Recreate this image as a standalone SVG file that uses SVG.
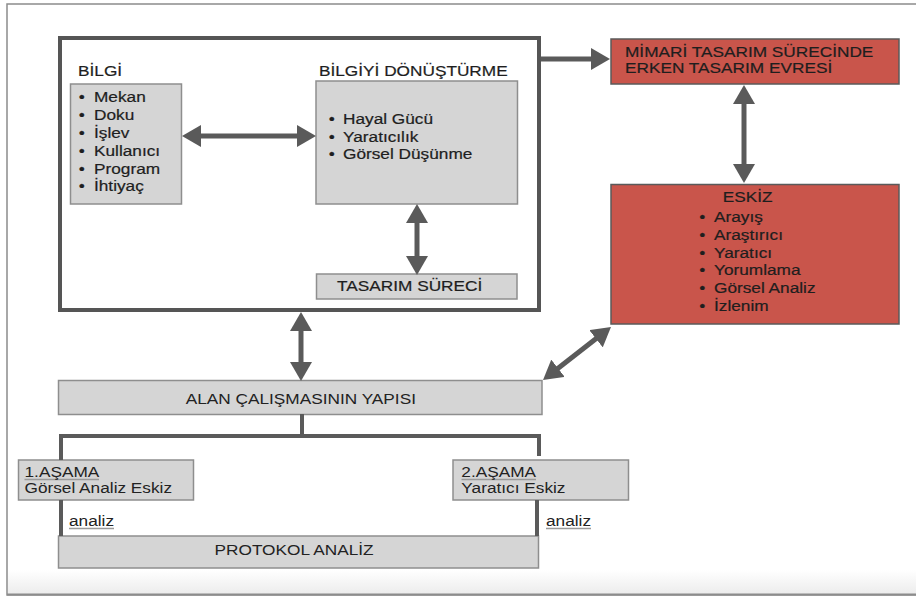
<svg xmlns="http://www.w3.org/2000/svg" width="916" height="597" viewBox="0 0 916 597">
<style>
.box{fill:#d5d5d5;stroke:#8e8e8e;stroke-width:1.5}
.red{fill:#c9554b;stroke:#5a5a5a;stroke-width:1.5}
.arr{stroke:#5a5a5a;stroke-width:5;fill:none}
.tree{stroke:#5a5a5a;stroke-width:4;fill:none}
.ul{stroke:#9a9a9a;stroke-width:1.4}
text{font-family:"Liberation Sans",Arial,sans-serif;font-size:14.5px;fill:#1e1e1e;stroke:#1e1e1e;stroke-width:0.2}
text.t{stroke:none;fill:#222222}
.m{text-anchor:middle}
</style>
<defs>
<marker id="ah" markerUnits="userSpaceOnUse" markerWidth="19" markerHeight="22" viewBox="0 0 19 22" refX="8" refY="11" orient="auto-start-reverse">
<path d="M0,0 L19,11 L0,22 z" fill="#5a5a5a"/>
</marker>
<linearGradient id="bg" x1="0" y1="0" x2="0" y2="1">
<stop offset="0" stop-color="#ffffff"/>
<stop offset="1" stop-color="#ececec"/>
</linearGradient>
</defs>
<rect x="0" y="0" width="916" height="597" fill="#ffffff"/>
<g id="frame">
<rect x="7" y="4" width="950" height="591" fill="#ffffff" stroke="#8c8c8c" stroke-width="1.5"/>
<rect x="8" y="570" width="910" height="24" fill="url(#bg)"/>
<line x1="7" y1="594.5" x2="916" y2="594.5" stroke="#8c8c8c" stroke-width="2"/>
</g>
<g id="inner-frame">
<rect x="60" y="38" width="479" height="272" fill="none" stroke="#555555" stroke-width="4"/>
</g>
<g id="bilgi">
<rect class="box" x="70.5" y="84" width="111" height="120"/>
</g>
<g id="bilgiyi">
<rect class="box" x="316" y="81" width="201.5" height="123"/>
</g>
<g id="tasarim">
<rect class="box" x="316.5" y="274" width="200.5" height="25"/>
</g>
<g id="mimari">
<rect class="red" x="611" y="39" width="288" height="45"/>
</g>
<g id="eskiz">
<rect class="red" x="611" y="184.5" width="288" height="139.5"/>
</g>
<g id="alan">
<rect class="box" x="58.5" y="380.5" width="483.5" height="34"/>
</g>
<g id="asama1">
<rect class="box" x="18.5" y="460" width="175" height="40"/>
</g>
<g id="asama2">
<rect class="box" x="453" y="460" width="175.5" height="40"/>
</g>
<g id="protokol">
<rect class="box" x="58.5" y="536" width="480" height="32"/>
</g>
<g id="connectors">
<line class="arr" x1="193" y1="136" x2="305" y2="136" marker-start="url(#ah)" marker-end="url(#ah)"/>
<line class="arr" x1="417" y1="215" x2="417" y2="264" marker-start="url(#ah)" marker-end="url(#ah)"/>
<line class="arr" x1="301" y1="323" x2="301" y2="370" marker-start="url(#ah)" marker-end="url(#ah)"/>
<line class="arr" x1="744" y1="96" x2="744" y2="172" marker-start="url(#ah)" marker-end="url(#ah)"/>
<line class="arr" x1="551.7" y1="373.2" x2="602.3" y2="333.8" marker-start="url(#ah)" marker-end="url(#ah)"/>
<line class="arr" x1="541" y1="59" x2="599" y2="59" marker-end="url(#ah)"/>
<path class="tree" d="M302,414 V436 M61,460 V436 H539 V456"/>
<path class="tree" d="M61,500 V536 M537,500 V536"/>
</g>
<g id="underlines">
<line class="ul" x1="24.5" y1="479.5" x2="99" y2="479.5"/>
<line class="ul" x1="461.5" y1="479.5" x2="536" y2="479.5"/>
<line class="ul" x1="69" y1="528.5" x2="114" y2="528.5"/>
<line class="ul" x1="546" y1="528.5" x2="591" y2="528.5"/>
</g>
<g id="labels" transform="scale(1.19 1)">
<text x="65.55" y="76">BİLGİ</text>
<text x="268.07" y="76">BİLGİYİ DÖNÜŞTÜRME</text>
<text x="66.13" y="102.5">•</text><text x="78.99" y="102.5">Mekan</text>
<text x="66.13" y="120.3">•</text><text x="78.99" y="120.3">Doku</text>
<text x="66.13" y="138.1">•</text><text x="78.99" y="138.1">İşlev</text>
<text x="66.13" y="155.9">•</text><text x="78.99" y="155.9">Kullanıcı</text>
<text x="66.13" y="173.7">•</text><text x="78.99" y="173.7">Program</text>
<text x="66.13" y="191.5">•</text><text x="78.99" y="191.5">İhtiyaç</text>
<text x="276.2" y="124">•</text><text x="288.24" y="124">Hayal Gücü</text>
<text x="276.2" y="141.7">•</text><text x="288.24" y="141.7">Yaratıcılık</text>
<text x="276.2" y="159.4">•</text><text x="288.24" y="159.4">Görsel Düşünme</text>
<text x="283.2" y="290.8">TASARIM SÜRECİ</text>
<text x="525.2" y="57">MİMARİ TASARIM SÜRECİNDE</text>
<text x="525.2" y="73.5">ERKEN TASARIM EVRESİ</text>
<text class="m" x="628.3" y="201.7">ESKİZ</text>
<text x="587.6" y="222.3">•</text><text x="600" y="222.3">Arayış</text>
<text x="587.6" y="240">•</text><text x="600" y="240">Araştırıcı</text>
<text x="587.6" y="257.7">•</text><text x="600" y="257.7">Yaratıcı</text>
<text x="587.6" y="275.4">•</text><text x="600" y="275.4">Yorumlama</text>
<text x="587.6" y="293.1">•</text><text x="600" y="293.1">Görsel Analiz</text>
<text x="587.6" y="310.8">•</text><text x="600" y="310.8">İzlenim</text>
<text class="m t" x="252.8" y="404.5">ALAN ÇALIŞMASININ YAPISI</text>
<text class="t" x="20.6" y="477">1.AŞAMA</text>
<text class="t" x="20.6" y="493.5">Görsel Analiz Eskiz</text>
<text class="t" x="387.7" y="477">2.AŞAMA</text>
<text class="t" x="387.7" y="493.5">Yaratıcı Eskiz</text>
<text class="t" x="58" y="526">analiz</text>
<text class="t" x="458.8" y="526">analiz</text>
<text class="m t" x="247.1" y="555.5">PROTOKOL ANALİZ</text>
</g>
</svg>
